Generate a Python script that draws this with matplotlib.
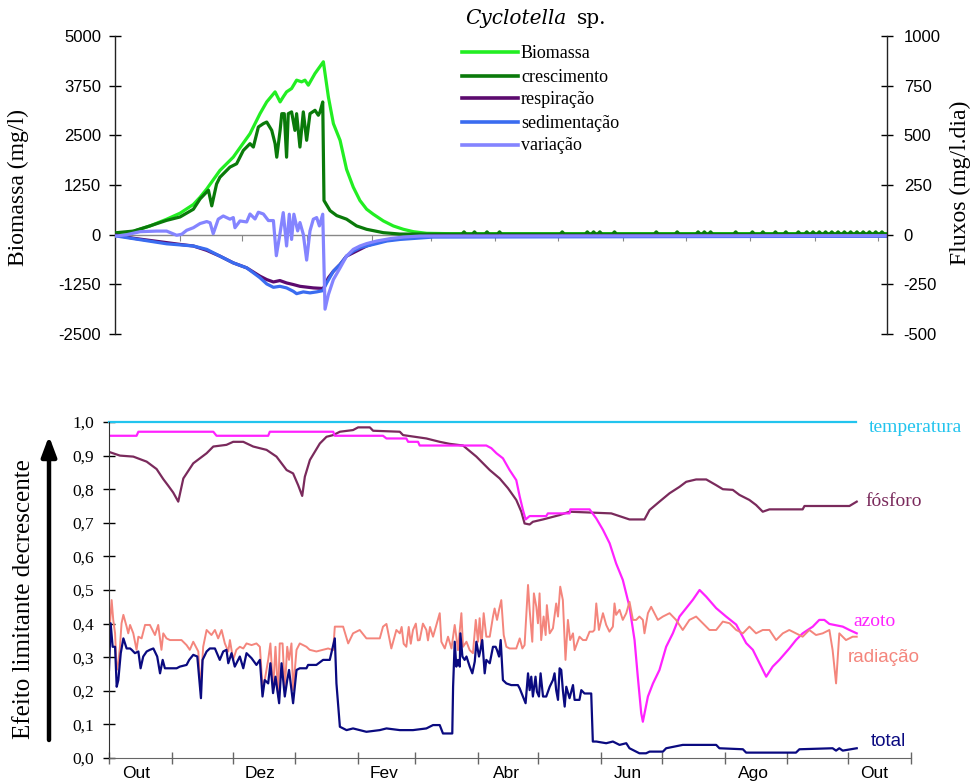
import numpy as np
import matplotlib
matplotlib.use("Agg")
import matplotlib.pyplot as plt
from matplotlib.lines import Line2D

SERIF = ["Liberation Serif", "DejaVu Serif"]
WIDE_SERIF = ["DejaVu Serif"]
SANS = ["Liberation Sans", "DejaVu Sans"]

# ---------------- data: top panel (days since 1 Oct) ----------------
bio_days = [0.8, 8.8, 16.7, 24.7, 31.1, 37.5, 40.7, 43.9, 50.2, 56.6, 64.6, 69.4, 72.6, 76.6, 79.0,
            80.5, 82.1, 84.5, 86.9, 89.3, 90.9, 92.5, 95.7, 99.7, 102.1, 104.5, 107.7, 110.8,
            114.0, 117.2, 120.4, 123.6, 128.4, 133.2, 138.0, 142.7, 149.1, 160, 369]
bio_vals = [8, 84, 219, 388, 540, 760, 942, 1150, 1616, 1952, 2542, 3047, 3341, 3594, 3341,
            3468, 3594, 3678, 3889, 3846, 3889, 3762, 4057, 4351, 3468, 2795, 2374, 1644,
            1197, 860, 641, 514, 346, 219, 135, 76, 34, 25, 25]

cres_days = [0.8, 8.8, 16.7, 24.7, 31.1, 37.5, 40.7, 44.7, 46.3, 48.6, 50.2, 55.0, 58.2, 61.4,
             64.6, 66.2, 68.6, 71.0, 72.6, 75.0, 76.6, 77.4, 79.0, 79.8, 81.0, 82.1,
             82.9, 84.5, 86.1, 86.9, 88.5, 90.1, 91.7, 93.3, 95.7, 97.3, 98.1, 99.4, 100.0,
             102.9, 106.1, 110.8, 115.6, 120.4, 128.4, 136.4, 369]
cres_vals = [10, 18, 44, 72, 89, 128, 180, 224, 145, 255, 289, 340, 357, 424,
             458, 441, 542, 559, 567, 525, 458, 390, 525, 609, 609, 390,
             609, 618, 525, 609, 441, 618, 475, 609, 626, 601, 618, 668, 172,
             121, 96, 78, 44, 27, 10, 3, 3]
cres_bump_days = [167, 172, 178, 184, 214, 226, 229, 232, 239, 259, 269, 279, 282, 285, 297,
                  305, 310, 316, 321, 327, 331, 334, 337, 340, 343, 346, 349, 352, 355, 358,
                  361, 364, 367]
cres_bump_height = 14

resp_days = [0.8, 8.8, 16.7, 24.7, 31.1, 37.5, 43.9, 50.2, 56.6, 63.0, 69.4, 72.6, 75.8, 78.9,
             82.1, 85.3, 88.5, 94.9, 99.7, 102.1, 104.5, 107.7, 110.8, 114.0, 117.2, 120.4,
             125.2, 130.0, 136.4, 142.7, 152.3, 369]
resp_vals = [-3, -18, -29, -40, -49, -57, -79, -108, -142, -167, -209, -226, -238, -231,
             -243, -251, -260, -268, -271, -217, -184, -150, -108, -91, -74, -57,
             -40, -29, -19, -12, -7, -5]

sed_days = [0.8, 24.7, 37.5, 43.9, 50.2, 56.6, 63.0, 69.4, 72.6, 75.8, 78.9, 82.1, 85.3, 86.9,
            90.1, 93.3, 96.5, 99.4, 101.3, 104.5, 107.7, 110.8, 114.0, 117.2, 120.4, 125.2,
            130.0, 136.4, 152.3, 369]
sed_vals = [-7, -46, -57, -74, -108, -142, -167, -217, -248, -265, -260, -268, -285, -297,
            -288, -293, -288, -282, -243, -184, -150, -108, -83, -66, -57, -45,
            -32, -24, -12, -8]

var_days = [0.8, 5.6, 12.0, 19.9, 24.7, 29.5, 31.9, 34.3, 37.5, 40.7, 43.9, 45.5, 47.0, 49.4,
            51.8, 55.0, 56.6, 57.4, 59.8, 63.0, 64.6, 67.0, 68.6, 71.0, 73.4, 75.8, 77.2, 78.9,
            80.5, 82.1, 83.4, 84.5, 85.6, 87.4, 88.5, 90.1, 91.7, 93.3, 94.9, 96.5, 97.8, 99.4,
            100.5, 102.1, 104.5, 107.7, 110.8, 114.0, 117.2, 120.4, 125.2, 131.6, 138.0, 145.9, 369]
var_vals = [-7, 0, 15, 18, 18, -3, 2, 22, 35, 56, 66, 60, 5, 78,
            94, 78, 86, 35, 69, 64, 104, 79, 113, 104, 71, 71, -106, 2,
            111, -57, 103, -24, 103, 19, 61, 2, -128, 19, 78, 86, 44, 103,
            -375, -302, -226, -167, -108, -74, -57, -45, -32, -20, -12, -7, -5]

# ---------------- data: bottom panel ----------------
temp_days = [0, 369]
temp_vals = [1.0, 1.0]

fos_days = [0.5, 5.4, 12.0, 18.6, 23.5, 26.8, 29.3, 31.7, 34.2, 36.7, 41.6, 48.2, 51.5, 58.0,
            61.3, 66.3, 71.2, 77.8, 82.7, 87.7, 90.9, 93.4, 95.4, 96.7, 99.2, 104.1, 107.4,
            110.7, 114.0, 120.5, 123.0, 128.8, 130.4, 143.6, 145.2, 156.7, 163.3, 168.2,
            174.8, 181.4, 184.7, 188.0, 192.9, 197.0, 201.1, 203.6, 205.2, 207.7, 209.3,
            214.3, 222.5, 227.4, 248.0, 257.0, 264.4, 266.9, 271.8, 276.8, 281.7, 285.0,
            289.9, 294.9, 299.8, 303.1, 308.0, 311.3, 316.2, 319.5, 322.8, 326.1, 342.5,
            343.4, 365.6, 369.2]
fos_vals = [0.91, 0.90, 0.897, 0.882, 0.86, 0.83, 0.81, 0.79, 0.763, 0.832, 0.877, 0.907, 0.927, 0.932,
            0.941, 0.941, 0.927, 0.917, 0.897, 0.857, 0.847, 0.812, 0.78, 0.837, 0.887, 0.936, 0.956,
            0.961, 0.971, 0.976, 0.984, 0.984, 0.974, 0.971, 0.961, 0.951, 0.941, 0.935,
            0.93, 0.897, 0.877, 0.857, 0.832, 0.803, 0.768, 0.733, 0.698, 0.695, 0.703,
            0.710, 0.723, 0.733, 0.728, 0.710, 0.710, 0.738, 0.763, 0.788, 0.807, 0.822,
            0.829, 0.829, 0.812, 0.800, 0.798, 0.783, 0.768, 0.753, 0.733, 0.740, 0.740,
            0.750, 0.750, 0.763]

azo_days = [0.5, 13.6, 14.5, 51.5, 53.1, 78.6, 79.4, 110.7, 111.5, 135.3, 137.0, 146.8, 147.7,
            152.6, 153.4, 186.3, 188.8, 191.3, 194.5, 197.8, 201.1, 202.8, 204.4, 205.7, 207.7,
            215.9, 216.7, 227.4, 227.8, 237.3, 240.6, 243.9, 247.2, 250.4, 253.7, 257.0, 259.5,
            261.1, 262.8, 263.6, 266.1, 268.6, 271.8, 275.1, 278.4, 281.7, 285.0, 288.3, 291.6,
            294.9, 299.8, 304.7, 309.7, 314.6, 317.9, 321.2, 324.5, 327.7, 331.0, 335.9, 339.2,
            342.5, 347.5, 350.7, 353.2, 355.7, 362.3, 365.6, 369.2]
azo_vals = [0.959, 0.959, 0.971, 0.971, 0.959, 0.959, 0.971, 0.971, 0.959, 0.959, 0.951, 0.951, 0.941,
            0.941, 0.930, 0.930, 0.922, 0.907, 0.892, 0.857, 0.827, 0.778, 0.738, 0.710, 0.720,
            0.720, 0.728, 0.728, 0.740, 0.740, 0.713, 0.679, 0.639, 0.579, 0.530, 0.450, 0.351,
            0.242, 0.133, 0.108, 0.183, 0.222, 0.262, 0.331, 0.371, 0.421, 0.446, 0.471, 0.500,
            0.480, 0.446, 0.421, 0.397, 0.342, 0.322, 0.282, 0.242, 0.272, 0.292, 0.326, 0.351,
            0.371, 0.391, 0.411, 0.411, 0.399, 0.391, 0.381, 0.371]

rad_days = [0.0, 0.5, 1.3, 2.1, 3.0, 3.8, 4.6, 5.4, 6.2, 7.1, 8.7, 9.5, 10.4, 12.0, 13.6, 14.5,
            16.1, 17.8, 20.2, 22.7, 24.3, 25.9, 26.8, 28.4, 30.1, 33.4, 35.8, 38.3, 39.9, 41.6,
            44.1, 45.2, 46.5, 48.2, 50.6, 52.3, 53.9, 55.6, 57.2, 58.9, 59.7, 61.3, 62.9, 64.6,
            66.3, 67.9, 70.4, 72.8, 74.5, 75.8, 76.9, 78.6, 79.7, 81.0, 82.2, 83.5, 84.3, 85.7,
            86.8, 88.0, 88.9, 90.1, 90.9, 92.6, 94.2, 97.5, 99.1, 102.4, 105.7, 108.2,
            110.7, 111.5, 115.6, 118.1, 120.5, 123.8, 127.1, 133.7, 135.3, 137.0, 139.4, 141.9,
            143.6, 144.5, 145.5, 146.8, 148.0, 149.0, 150.1, 151.5, 152.5, 153.4, 155.0, 156.7,
            157.5, 158.5, 160.0,
            163.3, 164.1, 165.8, 167.4, 169.1, 170.7, 171.5, 172.3, 174.0, 174.8, 176.5, 178.1,
            179.7, 181.1, 182.2, 183.0, 183.9, 185.0, 186.3, 188.0, 189.6, 190.4, 191.6, 192.6,
            193.7, 194.9, 196.2, 197.8, 201.1, 202.8, 204.1, 205.2, 206.9, 207.7, 209.0, 209.8,
            211.0, 211.8, 212.6, 213.4, 214.6, 215.6, 216.2, 217.6, 219.2, 220.8, 221.7, 222.8,
            224.1, 225.4, 226.6, 227.7, 229.1, 229.9, 232.3, 234.0, 235.6, 237.3, 238.9, 239.7,
            240.6, 241.9, 243.9, 245.5, 247.1, 248.8, 249.6, 250.4, 252.1, 253.7, 255.4, 257.0,
            258.7, 260.3, 261.9, 263.6, 264.4, 266.1, 267.7, 269.3, 271.0,
            273.5, 276.8, 280.0, 283.3, 286.6, 289.9, 293.2, 296.5, 299.8, 303.1, 306.4, 309.7,
            313.0, 316.2, 319.5, 322.8, 326.1, 329.4, 332.7, 335.9, 339.2, 342.5, 345.8, 349.1,
            352.4, 355.7, 357.3, 359.0, 360.6, 363.9, 367.2, 369.2]
rad_vals = [0.292, 0.401, 0.470, 0.411, 0.371, 0.262, 0.282, 0.331, 0.401, 0.426, 0.391, 0.371, 0.396, 0.371, 0.322, 0.361,
            0.356, 0.396, 0.396, 0.366, 0.396, 0.322, 0.371, 0.356, 0.351, 0.351, 0.351, 0.336, 0.322, 0.346,
            0.317, 0.202, 0.331, 0.381, 0.366, 0.381, 0.356, 0.381, 0.341, 0.317, 0.351, 0.292, 0.322, 0.331,
            0.326, 0.341, 0.336, 0.341, 0.331, 0.212, 0.232, 0.292, 0.341, 0.202, 0.331, 0.183, 0.341, 0.341,
            0.202, 0.331, 0.292, 0.341, 0.202, 0.322, 0.341, 0.331, 0.322, 0.317, 0.322, 0.326,
            0.321, 0.391, 0.391, 0.341, 0.371, 0.381, 0.356, 0.356, 0.391, 0.399, 0.326, 0.381,
            0.371, 0.390, 0.340, 0.331, 0.390, 0.340, 0.381, 0.400, 0.350, 0.351, 0.400, 0.381,
            0.350, 0.390, 0.361,
            0.431, 0.346, 0.326, 0.361, 0.326, 0.396, 0.361, 0.321, 0.431, 0.331, 0.346, 0.321,
            0.312, 0.411, 0.346, 0.416, 0.331, 0.431, 0.361, 0.361, 0.421, 0.445, 0.411, 0.441,
            0.470, 0.366, 0.331, 0.326, 0.326, 0.356, 0.326, 0.336, 0.515, 0.441, 0.346, 0.490,
            0.450, 0.401, 0.490, 0.351, 0.421, 0.366, 0.455, 0.371, 0.386, 0.460, 0.421, 0.510,
            0.470, 0.292, 0.411, 0.351, 0.371, 0.321, 0.361, 0.351, 0.351, 0.376, 0.376, 0.381,
            0.460, 0.381, 0.431, 0.396, 0.376, 0.391, 0.460, 0.426, 0.441, 0.411, 0.431, 0.465,
            0.411, 0.411, 0.421, 0.411, 0.371, 0.431, 0.450, 0.431, 0.411,
            0.421, 0.431, 0.411, 0.381, 0.411, 0.421, 0.401, 0.381, 0.381, 0.406, 0.401, 0.381,
            0.371, 0.391, 0.371, 0.381, 0.381, 0.351, 0.371, 0.381, 0.371, 0.361, 0.381, 0.366,
            0.371, 0.381, 0.321, 0.222, 0.371, 0.351, 0.361, 0.361]

tot_days = [0.0, 0.8, 1.8, 3.0, 3.8, 4.6, 5.8, 7.1, 8.7, 10.4, 11.2, 12.8, 14.5, 15.6, 16.9, 18.6,
            20.2, 21.9, 23.8, 25.2, 26.5, 27.6, 30.1, 33.4, 35.0, 38.3, 39.6, 41.6, 43.6, 44.6,
            45.4, 46.2, 48.2, 49.8, 52.3, 54.7, 56.4, 58.0, 58.9, 60.5, 62.1, 64.6, 66.3, 67.9,
            70.4, 72.8, 74.5, 75.8, 76.9, 78.6, 79.7, 81.0, 82.2, 84.0, 85.2, 86.8, 88.0, 88.9,
            90.9, 92.6, 94.2, 97.5, 98.3, 102.4, 105.7, 109.0,
            111.5, 112.3, 114.0, 117.3, 120.5, 127.1, 133.7, 137.0, 143.6, 150.1, 156.7, 160.0,
            163.3, 164.9, 169.5, 169.9, 170.7, 171.5, 172.3, 173.2, 173.5, 174.5, 175.6, 176.5,
            178.1, 179.4, 180.6, 181.4, 182.7, 183.4, 184.3, 185.5, 186.3, 188.0, 189.6, 190.9,
            191.6, 192.6, 193.4, 194.5, 196.2, 198.6, 201.9, 202.8, 204.4, 205.7, 206.9, 207.7,
            208.5, 209.3, 210.6, 211.3, 212.3, 213.1, 214.3, 215.9, 217.6, 219.2, 220.0, 220.8,
            221.7, 222.5, 223.3, 224.1, 225.0, 225.8, 227.4, 229.1, 229.9, 232.3, 233.2, 234.8,
            238.1, 238.9, 240.6, 245.5, 248.8, 252.1, 255.4, 257.0, 260.3, 261.9, 265.2, 266.9,
            271.8, 273.5, 275.1, 283.3, 299.8, 301.4, 313.0, 314.6, 339.2, 340.9, 357.3, 359.0,
            360.6, 362.3, 369.2]
tot_vals = [0.262, 0.401, 0.331, 0.331, 0.212, 0.232, 0.312, 0.356, 0.326, 0.326, 0.322, 0.312, 0.317, 0.267, 0.302, 0.317,
            0.322, 0.326, 0.302, 0.252, 0.292, 0.267, 0.267, 0.267, 0.272, 0.277, 0.292, 0.307, 0.302, 0.232,
            0.178, 0.292, 0.317, 0.326, 0.326, 0.292, 0.317, 0.322, 0.282, 0.312, 0.272, 0.302, 0.267, 0.312,
            0.297, 0.277, 0.292, 0.183, 0.232, 0.222, 0.282, 0.193, 0.242, 0.163, 0.282, 0.183, 0.232, 0.262,
            0.163, 0.262, 0.267, 0.267, 0.277, 0.277, 0.292, 0.292,
            0.356, 0.222, 0.093, 0.083, 0.088, 0.078, 0.083, 0.088, 0.083, 0.083, 0.088, 0.098,
            0.098, 0.073, 0.073, 0.212, 0.346, 0.272, 0.292, 0.272, 0.371, 0.302, 0.292, 0.302,
            0.272, 0.252, 0.287, 0.346, 0.302, 0.321, 0.351, 0.252, 0.292, 0.282, 0.331, 0.331,
            0.321, 0.302, 0.351, 0.232, 0.222, 0.217, 0.217, 0.207, 0.183, 0.163, 0.252, 0.202,
            0.242, 0.183, 0.242, 0.197, 0.183, 0.252, 0.183, 0.183, 0.212, 0.232, 0.252, 0.202,
            0.173, 0.267, 0.262, 0.202, 0.153, 0.212, 0.178, 0.217, 0.173, 0.173, 0.202, 0.192,
            0.192, 0.049, 0.049, 0.044, 0.049, 0.039, 0.044, 0.029, 0.019, 0.014, 0.014, 0.019,
            0.019, 0.019, 0.029, 0.039, 0.039, 0.029, 0.026, 0.016, 0.016, 0.026, 0.029, 0.022,
            0.029, 0.022, 0.029]

month_bounds = [0, 31, 61, 92, 123, 151, 182, 212, 243, 273, 304, 335, 365, 396]
month_labels = ["Out", "Dez", "Fev", "Abr", "Jun", "Ago", "Out"]
month_label_pos = [13.5, 74.5, 136, 196.5, 256, 318, 378]

top_left_ticks = [-2500, -1250, 0, 1250, 2500, 3750, 5000]
top_right_ticks = [-500, -250, 0, 250, 500, 750, 1000]
bot_ticks = [0.0, 0.1, 0.2, 0.3, 0.4, 0.5, 0.6, 0.7, 0.8, 0.9, 1.0]

# colours
C_BIO, C_CRES, C_RESP, C_SED, C_VAR = "#22ee22", "#0a7a0a", "#5c0a6e", "#3a6cf0", "#8484ff"
C_TEMP, C_FOS, C_AZO, C_RAD, C_TOT = "#22c4ee", "#7a2a5c", "#ff22ff", "#f4857c", "#0a0a80"

W, H = 971, 782
fig = plt.figure(figsize=(W / 100, H / 100), dpi=100)


def fx(px):
    return px / W


def fy(py):
    return 1 - py / H


# ---------------- top panel ----------------
ax1 = fig.add_axes([fx(115), fy(334), fx(887) - fx(115), fy(36) - fy(334)])
ax2 = ax1.twinx()
ax1.set_xlim(0, 369.4)
ax1.set_ylim(-2500, 5000)
ax2.set_ylim(-500, 1000)

# crescimento tail with small bumps
c_days = list(cres_days[:-1])
c_vals = list(cres_vals[:-1])
for d in cres_bump_days:
    c_days += [d - 1.0, d, d + 1.0]
    c_vals += [cres_vals[-1], cres_bump_height, cres_vals[-1]]
c_days.append(cres_days[-1])
c_vals.append(cres_vals[-1])
order = np.argsort(c_days, kind="stable")
c_days = np.array(c_days)[order]
c_vals = np.array(c_vals)[order]

ax1.plot(bio_days, bio_vals, color=C_BIO, lw=2.3, solid_joinstyle="round")
ax2.plot(c_days, c_vals, color=C_CRES, lw=2.3)
ax2.plot(resp_days, resp_vals, color=C_RESP, lw=2.3)
ax2.plot(sed_days, sed_vals, color=C_SED, lw=2.3)
ax2.plot(var_days, var_vals, color=C_VAR, lw=2.3)

for a in (ax1, ax2):
    a.spines["top"].set_visible(False)
    for s in ("left", "right"):
        a.spines[s].set_color("#222222")
        a.spines[s].set_linewidth(1.0)
ax1.spines["right"].set_visible(False)
ax2.spines["left"].set_visible(False)
ax2.spines["bottom"].set_visible(False)
ax1.spines["bottom"].set_position(("data", 0))
ax1.spines["bottom"].set_color("#888888")
ax1.spines["bottom"].set_linewidth(1.0)

ax1.set_xticks(month_bounds[1:-1])
ax1.set_xticklabels([])
ax1.tick_params(axis="x", direction="out", length=4, color="#888888")
ax1.set_yticks(top_left_ticks)
ax1.set_yticklabels([str(t) for t in top_left_ticks])
ax1.tick_params(axis="y", direction="inout", length=8, width=1, pad=6, labelsize=12)
ax2.set_yticks(top_right_ticks)
ax2.set_yticklabels([str(t) for t in top_right_ticks])
ax2.tick_params(axis="y", direction="inout", length=8, width=1, pad=8, labelsize=12)
for lab in ax1.get_yticklabels() + ax2.get_yticklabels():
    lab.set_fontfamily(SANS)

fig.text(fx(18), fy(187), "Biomassa (mg/l)", rotation=90, ha="center", va="center",
         fontsize=17, family=SERIF)
fig.text(fx(960), fy(183), "Fluxos (mg/l.dia)", rotation=90, ha="center", va="center",
         fontsize=17, family=SERIF)

fig.text(fx(465), fy(18), "Cyclotella", ha="left", va="center", fontsize=14.5,
         family=WIDE_SERIF, style="italic")
fig.text(fx(577), fy(18), "sp.", ha="left", va="center", fontsize=14.5, family=WIDE_SERIF)

legend_items = [("Biomassa", C_BIO, 52), ("crescimento", C_CRES, 76), ("respiração", C_RESP, 98),
                ("sedimentação", C_SED, 122), ("variação", C_VAR, 145)]
for name, col, yy in legend_items:
    fig.add_artist(Line2D([fx(462), fx(518)], [fy(yy), fy(yy)], color=col, lw=2.6,
                          transform=fig.transFigure))
    fig.text(fx(521), fy(yy + 1), name, ha="left", va="center", fontsize=13, family=SERIF)

# ---------------- bottom panel ----------------
ax3 = fig.add_axes([fx(109), fy(758), fx(911) - fx(109), fy(422) - fy(758)])
ax3.set_xlim(0, 396)
ax3.set_ylim(0, 1.0)

ax3.plot(temp_days, temp_vals, color=C_TEMP, lw=1.6, clip_on=False)
ax3.plot(fos_days, fos_vals, color=C_FOS, lw=1.6)
ax3.plot(azo_days, azo_vals, color=C_AZO, lw=1.6)
ax3.plot(rad_days, rad_vals, color=C_RAD, lw=1.4)
ax3.plot(tot_days, tot_vals, color=C_TOT, lw=1.6)

ax3.spines["top"].set_visible(False)
ax3.spines["right"].set_visible(False)
ax3.spines["left"].set_color("#333333")
ax3.spines["bottom"].set_color("#666666")

ax3.set_yticks(bot_ticks)
ax3.set_yticklabels([f"{t:.1f}".replace(".", ",") for t in bot_ticks])
ax3.tick_params(axis="y", direction="inout", length=8, width=1, pad=7, labelsize=12.5)
for lab in ax3.get_yticklabels():
    lab.set_fontfamily(SERIF)

ax3.set_xticks(month_bounds)
ax3.set_xticklabels([])
ax3.set_xticks(month_label_pos, minor=True)
ax3.set_xticklabels(month_labels, minor=True)
ax3.tick_params(axis="x", which="major", direction="inout", length=9, width=1, color="#666666")
ax3.tick_params(axis="x", which="minor", length=0, pad=6, labelsize=12.5)
for lab in ax3.get_xticklabels(minor=True):
    lab.set_fontfamily(SANS)

fig.text(fx(24), fy(599), "Efeito limitante decrescente", rotation=90, ha="center",
         va="center", fontsize=18, family=SERIF)
ax3.annotate("", xy=(fx(49), fy(436)), xytext=(fx(49), fy(740)),
             xycoords="figure fraction", textcoords="figure fraction",
             arrowprops=dict(arrowstyle="-|>,head_length=1.2,head_width=0.45",
                             color="black", lw=3.2, shrinkA=0, shrinkB=0))

series_labels = [("temperatura", C_TEMP, 869, 427, SERIF, 14),
                 ("fósforo", C_FOS, 865, 502, SERIF, 14),
                 ("azoto", C_AZO, 853, 622, SERIF, 14),
                 ("radiação", C_RAD, 848, 657, SANS, 13.5),
                 ("total", C_TOT, 871, 741, SANS, 13.5)]
for name, col, xx, yy, fam, fs in series_labels:
    fig.text(fx(xx), fy(yy), name, color=col, ha="left", va="center", fontsize=fs, family=fam)

fig.savefig("out.png", dpi=100)
